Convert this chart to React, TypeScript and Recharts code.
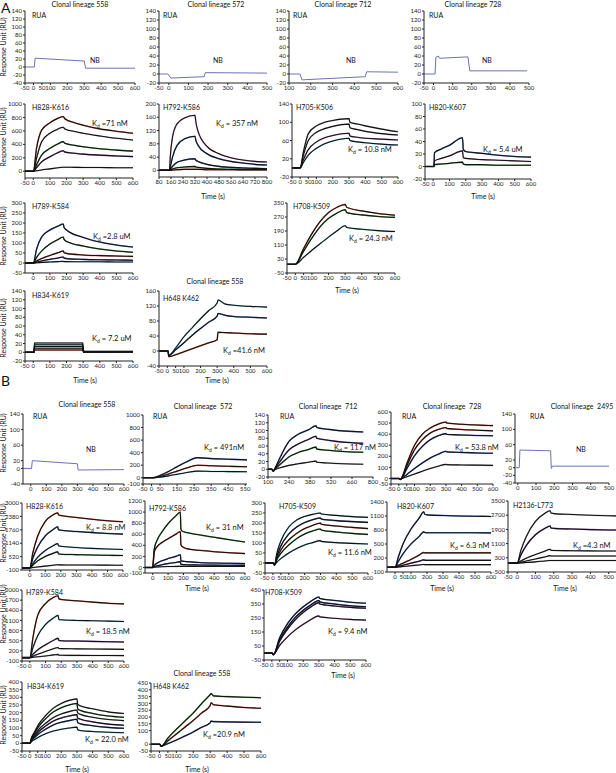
import React from 'react';
import { LineChart, Line, XAxis, YAxis } from 'recharts';

const FONT = 'Lato, "Open Sans", sans-serif';

// ---------- Panel A ----------
// row 1: RUA (single sensorgrams)
const a1Time = [-50, 5, 10, 300, 308, 600];
const a1Curves = [[0, 0, 22, 15, -3, -3]];
const a2Time = [-50, -5, 10, 180, 186, 500];
const a2Curves = [[0, 0, -9, -6, 3, 2]];
const a3Time = [100, 150, 160, 450, 456, 600];
const a3Curves = [[0, 0, -13, -6, 5, 4]];
const a4Time = [-50, 8, 12, 25, 32, 180, 190, 490];
const a4Curves = [[0, 0, 37, 40, 35, 38, 7, 7]];

// row 2
const a5Time = [-50, 0, 20, 50, 100, 150, 180, 190, 250, 300, 400, 500, 600];
const a5Curves = [
  [0, 0, 350, 610, 720, 790, 815, 780, 720, 685, 630, 595, 565],
  [0, 0, 200, 440, 565, 630, 655, 630, 590, 565, 525, 490, 465],
  [0, 0, 100, 240, 340, 410, 440, 415, 385, 365, 335, 315, 300],
  [0, 0, 55, 140, 215, 280, 305, 285, 268, 255, 240, 228, 218],
  [0, 0, 8, 20, 35, 52, 60, 60, 58, 57, 55, 53, 52],
];
const a6Time = [80, 150, 155, 170, 200, 250, 320, 325, 340, 400, 480, 560, 640, 720, 800];
const a6Curves = [
  [0, 0, 40, 100, 140, 158, 166, 148, 118, 72, 50, 38, 31, 27, 25],
  [0, 0, 10, 40, 75, 95, 103, 92, 76, 50, 35, 27, 22, 18, 16],
  [0, 0, 3, 12, 24, 31, 35, 31, 27, 18, 12, 9, 7, 6, 5],
  [0, 0, 1, 4, 8, 10, 12, 10, 9, 6, 4, 3, 2, 2, 2],
  [0, 0, 0, 1, 2, 3, 3, 3, 3, 2, 2, 2, 2, 2, 2],
];
const a7Time = [-50, 0, 20, 50, 100, 150, 200, 300, 305, 350, 400, 500, 600];
const a7Curves = [
  [0, 0, 35, 75, 92, 100, 104, 108, 100, 96, 92, 85, 79],
  [0, 0, 28, 60, 78, 86, 91, 96, 88, 84, 80, 75, 72],
  [0, 0, 18, 40, 57, 66, 71, 76, 70, 67, 65, 63, 61],
  [0, 0, 12, 28, 43, 53, 59, 65, 60, 57, 55, 52, 50],
];
const a8Time = [-50, 0, 5, 8, 50, 100, 180, 185, 200, 300, 400, 500, 600];
const a8Curves = [
  [0, 0, 0, 22, 28, 34, 46, 27, 24, 21, 18, 16, 15],
  [0, 0, 0, 9, 13, 17, 25, 14, 13, 11, 10, 9, 8],
  [0, 0, 0, 3, 4, 5, 7, 4, 3, 3, 2, 2, 2],
];

// row 3
const a9Time = [-50, 0, 20, 50, 100, 150, 180, 185, 200, 300, 400, 500, 600];
const a9Curves = [
  [0, 0, 70, 130, 165, 185, 195, 178, 165, 128, 105, 90, 80],
  [0, 0, 28, 60, 95, 118, 130, 118, 108, 85, 70, 60, 54],
  [0, 0, 10, 22, 38, 52, 60, 52, 48, 40, 37, 35, 33],
  [0, 0, 4, 10, 18, 25, 30, 25, 22, 18, 16, 15, 14],
  [0, 0, 1, 3, 5, 7, 8, 7, 7, 6, 6, 5, 5],
];
const a10Time = [-50, 0, 50, 100, 150, 200, 250, 300, 310, 400, 500, 600];
const a10Curves = [
  [0, 0, 90, 175, 245, 295, 325, 342, 325, 305, 290, 280],
  [0, 0, 75, 150, 215, 262, 292, 312, 295, 282, 273, 268],
  [0, 0, 40, 80, 118, 155, 190, 220, 210, 200, 192, 187],
];

// row 4
const a11Time = [-50, 3, 8, 297, 303, 600];
const a11Curves = [
  [0, 0, 21, 21, 2, 2],
  [0, 0, 17, 17, 1, 1],
  [0, 0, 13, 13, 1, 1],
  [0, 0, 9, 9, 0, 0],
  [0, 0, 5, 5, 0, 1],
];
const a12Time = [-50, 0, 5, 8, 50, 100, 150, 200, 250, 300, 305, 350, 400, 500, 600];
const a12Curves = [
  [0, 0, 0, -12, 8, 38, 62, 86, 108, 128, 136, 125, 122, 119, 117],
  [0, 0, 0, -12, 3, 22, 42, 60, 77, 93, 100, 95, 92, 90, 88],
  [0, 0, 0, -15, -10, -2, 6, 14, 22, 30, 50, 49, 48, 46, 45],
];

// ---------- Panel B ----------
// row 1
const b1Time = [-50, 5, 10, 300, 305, 600];
const b1Curves = [[0, 0, 20, 12, -4, -3]];
const b2Time = [-50, 0, 20, 50, 100, 150, 200, 270, 350, 450, 560];
const b2Curves = [
  [0, 0, 5, 35, 100, 175, 245, 320, 305, 295, 285],
  [0, 0, 3, 20, 60, 105, 150, 200, 190, 182, 175],
  [0, 0, 1, 10, 30, 55, 80, 105, 100, 98, 96],
];
const b3Time = [100, 125, 135, 150, 180, 240, 300, 370, 420, 425, 500, 600, 735];
const b3Curves = [
  [0, 0, -5, 5, 30, 72, 90, 102, 112, 108, 103, 99, 96],
  [0, 0, -5, 3, 20, 50, 65, 77, 85, 80, 75, 70, 67],
  [0, 0, -4, 2, 12, 32, 43, 51, 57, 52, 49, 46, 44],
  [0, 0, -3, 0, 4, 10, 14, 18, 21, 18, 16, 14, 13],
];
const b4Time = [-50, 0, 10, 20, 50, 100, 150, 200, 250, 300, 305, 400, 500, 600];
const b4Curves = [
  [0, 0, -10, 10, 130, 300, 400, 455, 490, 510, 500, 490, 482, 477],
  [0, 0, -10, 8, 110, 260, 350, 410, 442, 460, 452, 442, 435, 430],
  [0, 0, -10, 5, 85, 205, 290, 350, 385, 405, 398, 392, 388, 385],
  [0, 0, -8, 3, 35, 90, 140, 185, 218, 245, 240, 235, 230, 228],
  [0, 0, -5, 0, 15, 40, 65, 90, 110, 127, 125, 122, 120, 118],
];
const b5Time = [-10, 8, 12, 180, 184, 190, 500];
const b5Curves = [[0, 0, 46, 44, -2, 4, 4]];

// row 2
const b6Time = [-50, 0, 20, 50, 100, 150, 180, 185, 200, 300, 400, 500, 600];
const b6Curves = [
  [0, 0, 700, 1450, 2150, 2450, 2550, 2450, 2420, 2330, 2250, 2180, 2130],
  [0, 0, 450, 950, 1480, 1770, 1900, 1760, 1740, 1680, 1630, 1590, 1560],
  [0, 0, 200, 480, 800, 1020, 1120, 1020, 1000, 940, 900, 870, 850],
  [0, 0, 130, 320, 530, 670, 740, 640, 630, 610, 595, 580, 570],
  [0, 0, 15, 40, 80, 120, 145, 135, 135, 130, 128, 125, 120],
];
const b7Time = [-50, 0, 10, 30, 60, 100, 150, 180, 183, 190, 220, 300, 400, 500, 600];
const b7Curves = [
  [0, 0, 330, 500, 640, 790, 930, 1000, 700, 660, 630, 590, 545, 500, 460],
  [0, 0, 280, 380, 450, 520, 600, 650, 420, 380, 340, 310, 285, 265, 250],
  [0, 0, 40, 80, 120, 160, 200, 230, 130, 115, 105, 90, 80, 75, 70],
  [0, 0, 15, 30, 50, 70, 90, 105, 60, 55, 50, 45, 42, 40, 38],
  [0, 0, 5, 10, 14, 17, 19, 20, 20, 20, 20, 20, 20, 20, 20],
];
const b8Time = [-50, 0, 10, 25, 50, 100, 150, 200, 250, 300, 305, 400, 500, 600];
const b8Curves = [
  [0, 0, -10, 50, 110, 180, 215, 233, 243, 250, 245, 238, 232, 228],
  [0, 0, -10, 35, 85, 145, 180, 202, 216, 225, 220, 212, 207, 203],
  [0, 0, -10, 25, 65, 115, 148, 172, 188, 200, 194, 185, 178, 172],
  [0, 0, -8, 18, 48, 90, 122, 145, 160, 170, 165, 155, 148, 143],
  [0, 0, -8, 5, 22, 50, 72, 90, 102, 112, 108, 102, 98, 95],
];
const b9Time = [-50, 0, 20, 50, 100, 150, 180, 185, 200, 300, 400, 500, 600];
const b9Curves = [
  [0, 0, 210, 500, 820, 1050, 1190, 1140, 1125, 1110, 1100, 1095, 1090],
  [0, 0, 120, 290, 500, 660, 760, 745, 740, 740, 740, 740, 738],
  [0, 0, 40, 90, 170, 260, 320, 310, 310, 310, 310, 310, 310],
  [0, 0, 20, 45, 90, 130, 160, 155, 150, 150, 150, 150, 150],
  [0, 0, 8, 18, 35, 50, 60, 58, 58, 58, 57, 57, 57],
];
const b10Time = [-50, 0, 20, 50, 100, 150, 180, 185, 200, 300, 400, 500, 600];
const b10Curves = [
  [0, 0, 700, 1500, 2350, 2800, 2950, 2820, 2790, 2740, 2700, 2670, 2650],
  [0, 0, 450, 1000, 1600, 1950, 2090, 1980, 1960, 1920, 1890, 1870, 1850],
  [0, 0, 120, 280, 480, 670, 780, 720, 710, 700, 690, 685, 680],
  [0, 0, 50, 120, 230, 350, 420, 405, 400, 400, 400, 400, 400],
  [0, 0, 15, 35, 70, 120, 150, 150, 150, 150, 150, 150, 150],
];

// row 3
const b11Time = [-50, 0, 20, 50, 100, 150, 180, 185, 200, 300, 400, 500, 600];
const b11Curves = [
  [0, 0, 600, 1250, 1600, 1780, 1830, 1740, 1720, 1680, 1640, 1610, 1590],
  [0, 0, 300, 650, 980, 1170, 1250, 1130, 1120, 1100, 1090, 1080, 1070],
  [0, 0, 100, 230, 380, 510, 570, 510, 500, 490, 480, 470, 460],
  [0, 0, 40, 100, 180, 260, 300, 270, 265, 260, 255, 250, 245],
  [0, 0, 10, 25, 50, 80, 95, 70, 68, 65, 63, 62, 60],
];
const b12Time = [-50, 0, 10, 50, 100, 150, 200, 250, 300, 305, 400, 500, 600];
const b12Curves = [
  [0, 0, -12, 110, 210, 280, 330, 370, 400, 390, 375, 362, 355],
  [0, 0, -12, 95, 185, 255, 305, 345, 375, 365, 350, 338, 330],
  [0, 0, -12, 85, 170, 238, 290, 330, 360, 350, 336, 326, 320],
  [0, 0, -10, 55, 115, 165, 205, 240, 265, 258, 248, 240, 235],
];

// row 4
const b13Time = [-50, 0, 10, 30, 60, 100, 150, 200, 250, 300, 305, 320, 400, 500, 600];
const b13Curves = [
  [0, 0, 35, 75, 130, 180, 230, 260, 280, 290, 255, 245, 225, 205, 195],
  [0, 0, 30, 65, 115, 160, 205, 232, 250, 260, 225, 215, 195, 178, 170],
  [0, 0, 25, 55, 95, 130, 168, 192, 207, 217, 198, 190, 170, 155, 148],
  [0, 0, 20, 45, 80, 112, 145, 165, 178, 187, 165, 158, 140, 125, 118],
  [0, 0, 18, 38, 65, 92, 120, 137, 148, 157, 135, 128, 115, 104, 98],
  [0, 0, 12, 25, 43, 62, 80, 92, 100, 106, 88, 84, 77, 72, 69],
];
const b14Time = [-50, 0, 5, 10, 50, 100, 150, 200, 250, 300, 305, 320, 400, 500, 600];
const b14Curves = [
  [0, 0, -5, -15, 45, 110, 170, 230, 300, 365, 372, 355, 350, 345, 342],
  [0, 0, -5, -15, 25, 75, 125, 175, 230, 285, 305, 290, 280, 270, 264],
  [0, 0, -5, -15, 5, 30, 60, 90, 125, 158, 170, 166, 164, 162, 161],
];

// tick label sets
const tNeg50to600 = [-50, 0, 100, 200, 300, 400, 500, 600];
const tNeg50to600b = [-50, 0, 50, 100, 200, 300, 400, 500, 600];
const t0to600 = [0, 100, 200, 300, 400, 500, 600];
const tRua = [-20, 0, 20, 40, 60, 80, 100, 120, 140];

const RED = '#d6482c';
const GREEN = '#3f9b3f';
const PURPLE = '#8b4db3';
const BLUE = '#4169c6';
const CYAN = '#6cc0d2';
const PINK = '#d88cc9';
const GRAY = '#a3a3a3';
const NAVY = '#2d3f8f';
const RAW = '#6a72b8';

type Kind = 'raw' | 'step' | 'fit';
interface PanelCfg {
  time: number[];
  curves: number[][];
  colors: string[];
  kind: Kind;
  box: [number, number, number, number];
  xDomain: [number, number];
  xTicks: number[];
  yDomain: [number, number];
  yTicks: number[];
}

const panels: PanelCfg[] = [
  { time: a1Time, curves: a1Curves, colors: [RAW], kind: 'raw', box: [25, 11, 135, 83], xDomain: [-50, 600], xTicks: tNeg50to600b, yDomain: [-40, 140], yTicks: [-40, ...tRua] },
  { time: a2Time, curves: a2Curves, colors: [RAW], kind: 'raw', box: [159, 11, 267, 83], xDomain: [-50, 500], xTicks: [-50, 0, 100, 200, 300, 400, 500], yDomain: [-20, 140], yTicks: tRua },
  { time: a3Time, curves: a3Curves, colors: [RAW], kind: 'raw', box: [289, 11, 398, 83], xDomain: [100, 600], xTicks: [100, 200, 300, 400, 500, 600], yDomain: [-20, 140], yTicks: tRua },
  { time: a4Time, curves: a4Curves, colors: [RAW], kind: 'raw', box: [424, 11, 529, 83], xDomain: [-50, 500], xTicks: [-50, 0, 100, 200, 300, 400, 500], yDomain: [-20, 140], yTicks: tRua },

  { time: a5Time, curves: a5Curves, colors: [RED, GRAY, GREEN, PURPLE, GRAY], kind: 'fit', box: [25, 104, 133, 178], xDomain: [-50, 600], xTicks: tNeg50to600, yDomain: [-100, 1000], yTicks: [0, 200, 400, 600, 800, 1000] },
  { time: a6Time, curves: a6Curves, colors: [PINK, BLUE, NAVY, GREEN, RED], kind: 'fit', box: [159, 104, 267, 177], xDomain: [80, 800], xTicks: [80, 160, 240, 320, 400, 480, 560, 640, 720, 800], yDomain: [-20, 200], yTicks: [0, 40, 80, 120, 160, 200] },
  { time: a7Time, curves: a7Curves, colors: [GRAY, GRAY, PINK, CYAN], kind: 'fit', box: [292, 104, 398, 177], xDomain: [-50, 600], xTicks: tNeg50to600b, yDomain: [-20, 140], yTicks: [-20, 20, 60, 100, 140] },
  { time: a8Time, curves: a8Curves, colors: [BLUE, PINK, GREEN], kind: 'fit', box: [425, 104, 531, 179], xDomain: [-50, 600], xTicks: tNeg50to600, yDomain: [-20, 100], yTicks: [-20, 0, 20, 40, 60, 80, 100] },

  { time: a9Time, curves: a9Curves, colors: [BLUE, GREEN, RED, PURPLE, CYAN], kind: 'fit', box: [25, 203, 133, 273], xDomain: [-50, 600], xTicks: t0to600, yDomain: [-50, 300], yTicks: [-50, 0, 50, 100, 150, 200, 250, 300] },
  { time: a10Time, curves: a10Curves, colors: [RED, GREEN, CYAN], kind: 'fit', box: [287, 203, 395, 273], xDomain: [-50, 600], xTicks: tNeg50to600b, yDomain: [-50, 350], yTicks: [-50, 30, 110, 190, 270, 350] },

  { time: a11Time, curves: a11Curves, colors: [GRAY, CYAN, GREEN, GRAY, RED], kind: 'step', box: [25, 291, 133, 361], xDomain: [-50, 600], xTicks: tNeg50to600, yDomain: [-20, 140], yTicks: tRua },
  { time: a12Time, curves: a12Curves, colors: [CYAN, BLUE, RED], kind: 'fit', box: [159, 291, 267, 366], xDomain: [-50, 600], xTicks: tNeg50to600b, yDomain: [-40, 160], yTicks: [-40, 0, 40, 80, 120, 160] },

  { time: b1Time, curves: b1Curves, colors: [RAW], kind: 'raw', box: [23, 414, 124, 484], xDomain: [-50, 600], xTicks: t0to600, yDomain: [-40, 140], yTicks: [-40, 0, 20, 60, 100, 140] },
  { time: b2Time, curves: b2Curves, colors: [BLUE, RED, CYAN], kind: 'fit', box: [143, 415, 247, 484], xDomain: [-50, 560], xTicks: [-50, 0, 50, 150, 250, 350, 450, 550], yDomain: [-100, 1000], yTicks: [-100, 0, 200, 400, 600, 800, 1000] },
  { time: b3Time, curves: b3Curves, colors: [BLUE, PURPLE, GREEN, GRAY], kind: 'fit', box: [268, 415, 373, 477], xDomain: [100, 800], xTicks: [100, 240, 380, 520, 660, 800], yDomain: [-20, 140], yTicks: tRua },
  { time: b4Time, curves: b4Curves, colors: [RED, RED, BLUE, BLUE, GRAY], kind: 'fit', box: [391, 412, 493, 484], xDomain: [-50, 600], xTicks: tNeg50to600b, yDomain: [-50, 600], yTicks: [-50, 0, 100, 200, 300, 400, 500, 600] },
  { time: b5Time, curves: b5Curves, colors: [RAW], kind: 'raw', box: [515, 414, 609, 483], xDomain: [-15, 500], xTicks: [0, 100, 200, 300, 400, 500], yDomain: [-40, 140], yTicks: [-40, -20, 0, 20, 60, 100, 140] },

  { time: b6Time, curves: b6Curves, colors: [RED, BLUE, CYAN, GREEN, GRAY], kind: 'fit', box: [22, 503, 123, 570], xDomain: [-50, 600], xTicks: t0to600, yDomain: [-100, 3000], yTicks: [-100, 520, 1140, 1760, 2380, 3000] },
  { time: b7Time, curves: b7Curves, colors: [GREEN, RED, BLUE, BLUE, GRAY], kind: 'fit', box: [145, 501, 245, 573], xDomain: [-50, 600], xTicks: t0to600, yDomain: [-100, 1200], yTicks: [-100, 0, 200, 400, 600, 800, 1000, 1200] },
  { time: b8Time, curves: b8Curves, colors: [CYAN, NAVY, RED, GREEN, CYAN], kind: 'fit', box: [265, 503, 368, 573], xDomain: [-50, 600], xTicks: tNeg50to600b, yDomain: [-50, 300], yTicks: [-50, 0, 50, 100, 150, 200, 250, 300] },
  { time: b9Time, curves: b9Curves, colors: [BLUE, BLUE, RED, PURPLE, GRAY], kind: 'fit', box: [387, 502, 491, 572], xDomain: [-50, 600], xTicks: [0, 50, 100, 200, 300, 400, 500, 600], yDomain: [-100, 1400], yTicks: [-100, 200, 500, 800, 1100, 1400] },
  { time: b10Time, curves: b10Curves, colors: [GRAY, PURPLE, GRAY, GRAY, GRAY], kind: 'fit', box: [508, 501, 627, 572], xDomain: [-50, 600], xTicks: tNeg50to600, yDomain: [-500, 3500], yTicks: [-500, 300, 1100, 1900, 2700, 3500] },

  { time: b11Time, curves: b11Curves, colors: [RED, CYAN, PURPLE, GRAY, GRAY], kind: 'fit', box: [22, 590, 124, 661], xDomain: [-50, 600], xTicks: tNeg50to600, yDomain: [-100, 2000], yTicks: [-100, 200, 500, 800, 1100, 1400, 1700, 2000] },
  { time: b12Time, curves: b12Curves, colors: [BLUE, NAVY, PURPLE, PINK], kind: 'fit', box: [264, 590, 366, 660], xDomain: [-50, 600], xTicks: tNeg50to600b, yDomain: [-50, 450], yTicks: [-50, 50, 150, 250, 350, 450] },

  { time: b13Time, curves: b13Curves, colors: [GRAY, GREEN, GRAY, PURPLE, BLUE, CYAN], kind: 'fit', box: [22, 682, 124, 751], xDomain: [-50, 600], xTicks: tNeg50to600b, yDomain: [-50, 400], yTicks: [-50, 0, 50, 100, 150, 200, 250, 300, 350, 400] },
  { time: b14Time, curves: b14Curves, colors: [GREEN, RED, BLUE], kind: 'fit', box: [151, 683, 261, 751], xDomain: [-50, 600], xTicks: tNeg50to600b, yDomain: [-50, 450], yTicks: [-50, 0, 100, 150, 200, 250, 300, 350, 400, 450] },
];

const tickStyle = { fontSize: 6, fill: '#222', fontFamily: FONT };

function Panel({ p }: { p: PanelCfg }) {
  const [x0, y0, x1, y1] = p.box;
  const yW = 30;
  const padT = 5;
  const padR = 6;
  const xH = 12;
  const rows = p.time.map((t, i) => {
    const r: Record<string, number> = { t };
    p.curves.forEach((c, j) => {
      r['c' + j] = c[i];
    });
    return r;
  });
  const type = p.kind === 'fit' ? 'monotone' : 'linear';
  return (
    <div style={{ position: 'absolute', left: x0 - yW, top: y0 - padT }}>
      <LineChart
        width={yW + x1 - x0 + padR}
        height={padT + y1 - y0 + xH}
        data={rows}
        margin={{ top: padT, right: padR, bottom: 0, left: 0 }}
      >
        <XAxis
          dataKey="t"
          type="number"
          domain={p.xDomain}
          ticks={p.xTicks}
          interval={0}
          allowDataOverflow
          height={xH}
          tickSize={2}
          tickMargin={1}
          tick={tickStyle}
          stroke="#222"
        />
        <YAxis
          type="number"
          domain={p.yDomain}
          ticks={p.yTicks}
          interval={0}
          allowDataOverflow
          width={yW}
          tickSize={2}
          tickMargin={1}
          tick={tickStyle}
          stroke="#222"
        />
        {p.kind !== 'raw' &&
          p.curves.map((_, j) => (
            <Line
              key={'d' + j}
              dataKey={'c' + j}
              type={type}
              stroke={p.colors[j]}
              strokeWidth={1.5}
              strokeOpacity={0.85}
              dot={false}
              isAnimationActive={false}
            />
          ))}
        {p.curves.map((_, j) => (
          <Line
            key={'f' + j}
            dataKey={'c' + j}
            type={type}
            stroke={p.kind === 'raw' ? RAW : '#111'}
            strokeWidth={p.kind === 'raw' ? 1 : 1.1}
            dot={false}
            isAnimationActive={false}
          />
        ))}
      </LineChart>
    </div>
  );
}

// text overlay: [x, y, text]
const titles: [number, number, string][] = [
  [80, 7, 'Clonal lineage 558'], [216, 7, 'Clonal lineage 572'], [343, 7, 'Clonal lineage 712'], [473, 7, 'Clonal lineage 728'],
  [215, 284, 'Clonal lineage 558'],
  [87, 407, 'Clonal lineage 558'], [203, 409, 'Clonal lineage  572'], [328, 409, 'Clonal lineage  712'], [452, 409, 'Clonal lineage  728'], [582, 409, 'Clonal lineage  2495'],
  [202, 676, 'Clonal lineage 558'],
];
const names: [number, number, string][] = [
  [32, 18, 'RUA'], [163, 18, 'RUA'], [293, 18, 'RUA'], [429, 18, 'RUA'],
  [32, 110, 'H828-K616'], [163, 110, 'H792-K586'], [296, 110, 'H705-K506'], [429, 110, 'H820-K607'],
  [32, 209, 'H789-K584'], [293, 209, 'H708-K509'],
  [32, 298, 'H834-K619'], [163, 301, 'H648 K462'],
  [33, 419, 'RUA'], [153, 419, 'RUA'], [280, 419, 'RUA'], [402, 419, 'RUA'], [530, 419, 'RUA'],
  [26, 509, 'H828-K616'], [149, 511, 'H792-K586'], [279, 509, 'H705-K509'], [397, 509, 'H820-K607'], [513, 508, 'H2136-L773'],
  [26, 595, 'H789-K584'], [265, 595, 'H708-K509'],
  [27, 689, 'H834-K619'], [153, 689, 'H648 K462'],
];
const nbs: [number, number][] = [[90, 63], [213, 63], [346, 63], [482, 63], [86, 452], [576, 452]];
const kds: [number, number, string][] = [
  [92, 126, '=71 nM'], [216, 126, '= 357 nM'], [348, 152, '= 10.8 nM'], [483, 152, '= 5.4 uM'],
  [93, 239, '=2.8 uM'], [349, 241, '= 24.3 nM'], [92, 341, '= 7.2 uM'], [223, 353, '=41.6 nM'],
  [204, 450, '= 491nM'], [334, 450, '= 117 nM'], [455, 450, '= 53.8 nM'],
  [86, 530, '= 8.8 nM'], [206, 530, '= 31 nM'], [328, 555, '= 11.6 nM'], [450, 548, '= 6.3 nM'], [573, 548, '=4.3 nM'],
  [86, 634, '= 18.5 nM'], [328, 634, '= 9.4 nM'], [85, 742, '= 22.0 nM'], [203, 737, '=20.9 nM'],
];
const times: [number, number][] = [
  [213, 199], [483, 199], [347, 293], [85, 383], [217, 383],
  [197, 591], [442, 591], [565, 591], [343, 678], [77, 772], [197, 772],
];
const ruLabels = [47, 137, 236, 328, 443, 533, 614, 715];

export default function App() {
  return (
    <div style={{ position: 'absolute', left: 0, top: 0, width: 616, height: 773, overflow: 'hidden', background: '#fff' }}>
      {panels.map((p, i) => (
        <Panel key={i} p={p} />
      ))}
      <svg width={616} height={773} style={{ position: 'absolute', left: 0, top: 0, pointerEvents: 'none' }} fontFamily={FONT} fill="#111">
        <text x={1} y={13} fontSize={14}>A</text>
        <text x={1} y={386} fontSize={14}>B</text>
        {titles.map(([x, y, s], i) => (
          <text key={'t' + i} x={x} y={y} fontSize={7} textAnchor="middle" style={{ whiteSpace: 'pre' }}>{s}</text>
        ))}
        {names.map(([x, y, s], i) => (
          <text key={'n' + i} x={x} y={y} fontSize={7}>{s}</text>
        ))}
        {nbs.map(([x, y], i) => (
          <text key={'b' + i} x={x} y={y} fontSize={7}>NB</text>
        ))}
        {kds.map(([x, y, s], i) => (
          <text key={'k' + i} x={x} y={y} fontSize={7.5}>
            K<tspan fontSize={5} dy={2}>d</tspan>
            <tspan dy={-2} style={{ whiteSpace: 'pre' }}>{' ' + s}</tspan>
          </text>
        ))}
        {times.map(([x, y], i) => (
          <text key={'s' + i} x={x} y={y} fontSize={7} textAnchor="middle">Time (s)</text>
        ))}
        {ruLabels.map((cy, i) => (
          <text key={'r' + i} x={0} y={0} fontSize={7} textAnchor="middle" transform={`translate(6 ${cy}) rotate(-90)`}>
            Response Unit (RU)
          </text>
        ))}
      </svg>
    </div>
  );
}
